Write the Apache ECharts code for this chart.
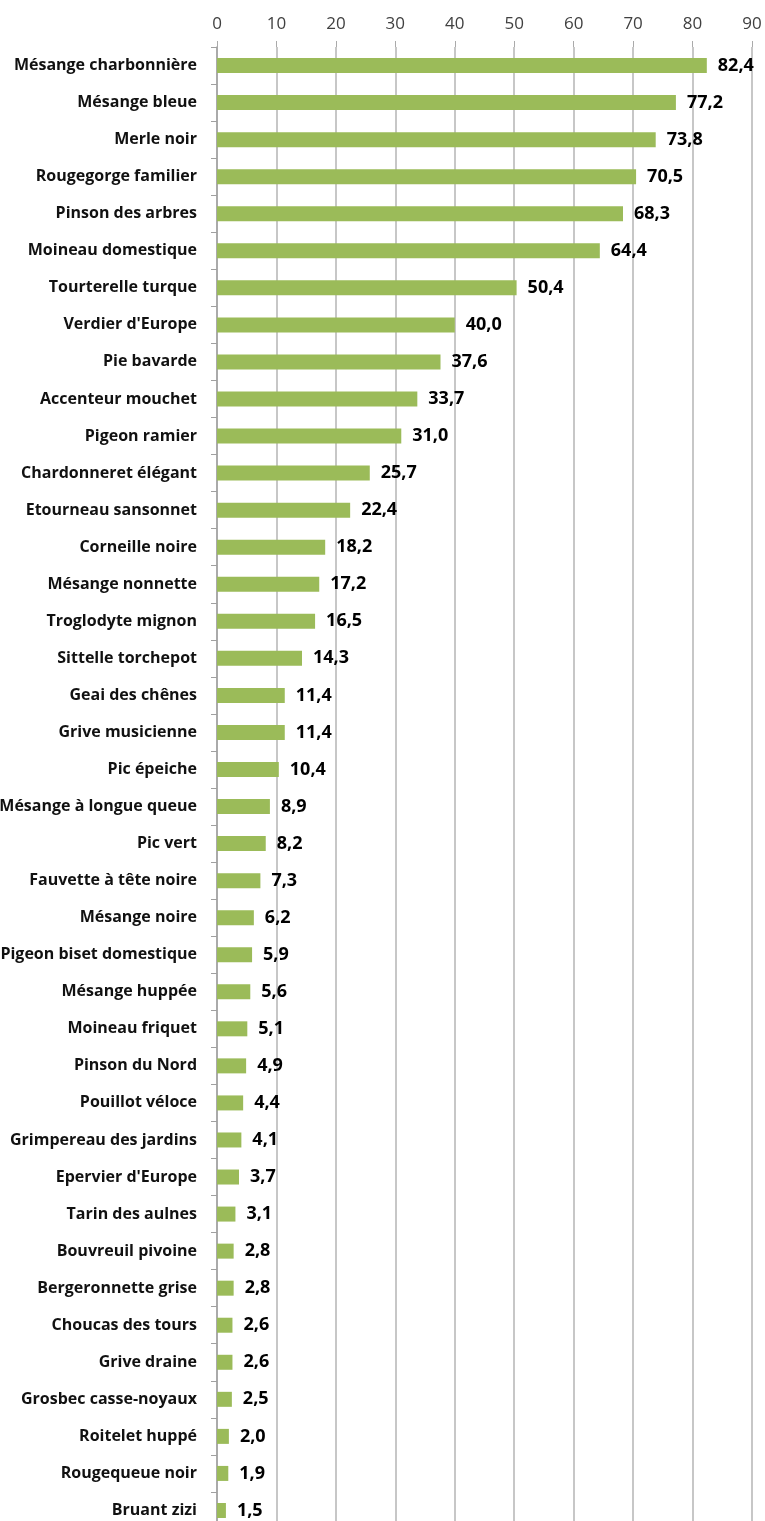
<!DOCTYPE html>
<html><head><meta charset="utf-8">
<script src="https://cdn.jsdelivr.net/npm/echarts@6/dist/echarts.min.js"></script>
<style>html,body{margin:0;padding:0;background:#fff}#c{width:765px;height:1521px}</style>
</head><body><div id="c"></div>
<script>
const categories = ["Mésange charbonnière","Mésange bleue","Merle noir","Rougegorge familier","Pinson des arbres","Moineau domestique","Tourterelle turque","Verdier d'Europe","Pie bavarde","Accenteur mouchet","Pigeon ramier","Chardonneret élégant","Etourneau sansonnet","Corneille noire","Mésange nonnette","Troglodyte mignon","Sittelle torchepot","Geai des chênes","Grive musicienne","Pic épeiche","Mésange à longue queue","Pic vert","Fauvette à tête noire","Mésange noire","Pigeon biset domestique","Mésange huppée","Moineau friquet","Pinson du Nord","Pouillot véloce","Grimpereau des jardins","Epervier d'Europe","Tarin des aulnes","Bouvreuil pivoine","Bergeronnette grise","Choucas des tours","Grive draine","Grosbec casse-noyaux","Roitelet huppé","Rougequeue noir","Bruant zizi"];
const values = [82.4,77.2,73.8,70.5,68.3,64.4,50.4,40.0,37.6,33.7,31.0,25.7,22.4,18.2,17.2,16.5,14.3,11.4,11.4,10.4,8.9,8.2,7.3,6.2,5.9,5.6,5.1,4.9,4.4,4.1,3.7,3.1,2.8,2.8,2.6,2.6,2.5,2.0,1.9,1.5];
const axisMin = 0, axisMax = 90, axisStep = 10;

const chart = echarts.init(document.getElementById('c'));
chart.setOption({
  animation: false,
  grid: {left: 217, right: 13, top: 47, height: 1482, containLabel: false, outerBoundsMode: 'none'},
  xAxis: {
    type: 'value', position: 'top', min: axisMin, max: axisMax, interval: axisStep,
    axisLine: {show: false}, axisTick: {show: true, length: 6, lineStyle: {color: '#aaaaaa'}},
    axisLabel: {color: '#404040', fontSize: 17, fontFamily: 'Open Sans', margin: 14},
    splitLine: {show: true, lineStyle: {color: '#b5b5b5', width: 1.5}}
  },
  yAxis: {
    type: 'category', inverse: true, data: categories,
    axisLine: {show: true, lineStyle: {color: '#a0a0a0', width: 1.5}},
    axisTick: {show: true, length: 6, lineStyle: {color: '#a0a0a0'}},
    axisLabel: {color: '#111111', fontSize: 16, fontWeight: 'bold', fontFamily: 'Open Sans', margin: 20}
  },
  series: [{
    type: 'bar', data: values, barWidth: 15,
    itemStyle: {color: '#9BBB59'},
    label: {show: true, position: 'right', distance: 11, color: '#000', fontSize: 18, fontWeight: 'bold', fontFamily: 'Open Sans',
      formatter: p => p.value.toFixed(1).replace('.', ',')}
  }]
});
</script></body></html>
